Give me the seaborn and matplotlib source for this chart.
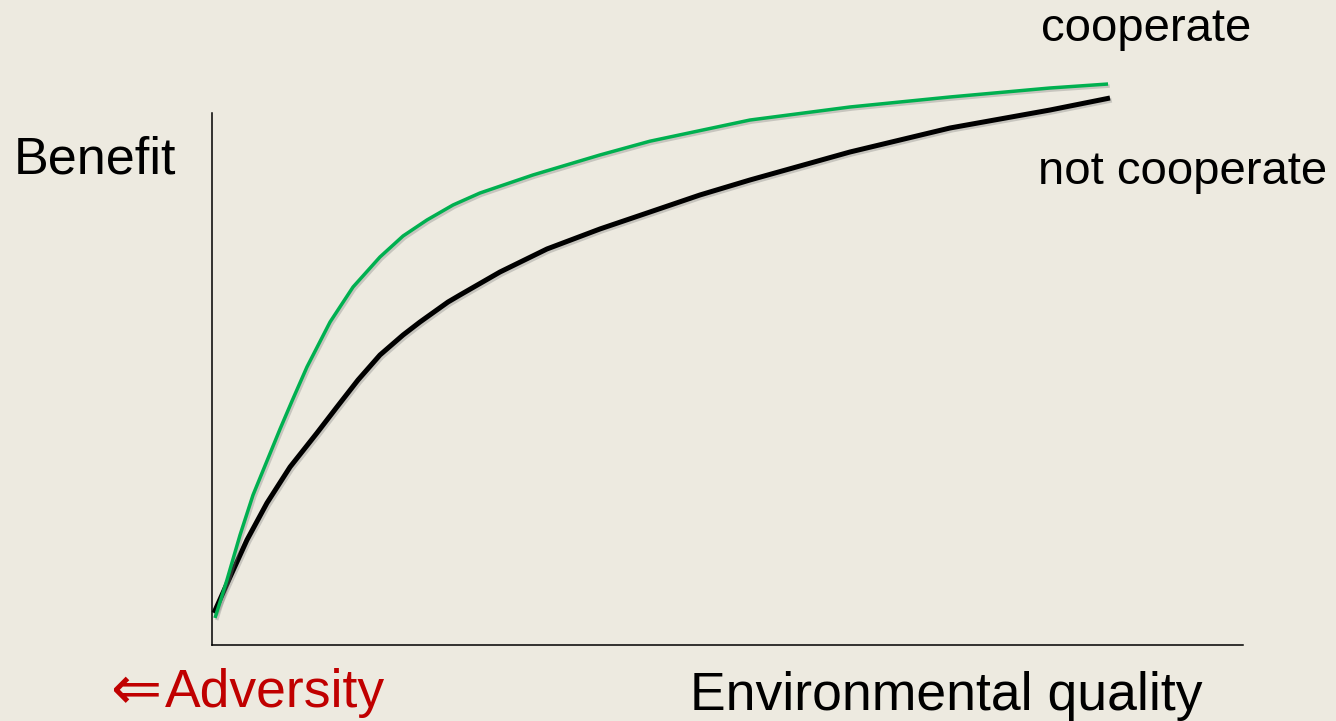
import numpy as np
import pandas as pd
import matplotlib
matplotlib.use("Agg")
import matplotlib.pyplot as plt
import matplotlib.patheffects as pe
import seaborn as sns

# -----------------------------
# Data (0-100 scale on both axes)
# -----------------------------
coop_x = [0.29, 1.45, 2.72, 3.98, 5.33, 6.60, 7.76, 9.21, 11.45, 13.68,
          16.29, 18.53, 20.85, 23.38, 25.99, 31.13, 37.63, 42.48, 52.18,
          61.88, 71.58, 81.28, 86.91]
coop_y = [5.08, 12.22, 20.68, 28.20, 34.59, 40.60, 45.86, 52.26, 60.71, 67.29,
          72.93, 76.88, 79.89, 82.71, 84.96, 88.35, 92.11, 94.70, 98.68,
          101.13, 103.01, 104.70, 105.45]

nocoop_x = [0.19, 1.75, 3.39, 5.33, 7.57, 10.18, 12.12, 14.16, 16.29, 18.53,
            20.17, 22.89, 24.05, 27.93, 32.49, 37.63, 42.48, 47.33, 52.18,
            61.88, 71.58, 81.28, 87.10]
nocoop_y = [6.02, 12.78, 19.74, 26.69, 33.46, 39.85, 44.74, 49.81, 54.51, 58.27,
            60.71, 64.47, 65.79, 70.11, 74.44, 78.20, 81.39, 84.59, 87.41,
            92.67, 97.18, 100.56, 102.82]

BG = "#EDEAE0"
GREEN = "#00B050"
RED = "#C00000"

sns.set_style("white")
plt.rcParams["font.family"] = ["Liberation Sans", "DejaVu Sans"]
plt.rcParams["figure.facecolor"] = BG
plt.rcParams["axes.facecolor"] = BG

fig = plt.figure(figsize=(13.36, 7.21), dpi=100)
W, H = 1336, 721
ax = fig.add_axes([212 / W, 76 / H, 1031 / W, 532 / H])

df = pd.concat([
    pd.DataFrame({"x": nocoop_x, "y": nocoop_y, "s": "not cooperate"}),
    pd.DataFrame({"x": coop_x, "y": coop_y, "s": "cooperate"}),
])

sns.lineplot(data=df, x="x", y="y", hue="s",
             palette={"not cooperate": "black", "cooperate": GREEN},
             legend=False, ax=ax, sort=False)

shadow = [pe.SimpleLineShadow(offset=(1.2, -1.5), shadow_color="gray", alpha=0.35),
          pe.Normal()]
for line in ax.lines:
    line.set_clip_on(False)
    line.set_solid_capstyle("butt")
    line.set_solid_joinstyle("round")
    line.set_path_effects(shadow)
    if line.get_color() == "black":
        line.set_linewidth(3.6)
    else:
        line.set_linewidth(2.5)

ax.set_xlim(0, 100)
ax.set_ylim(0, 100)
ax.set_xticks([])
ax.set_yticks([])
ax.set_xlabel("")
ax.set_ylabel("")
for side in ["top", "right"]:
    ax.spines[side].set_visible(False)
for side in ["left", "bottom"]:
    ax.spines[side].set_color("black")
    ax.spines[side].set_linewidth(1.1)

# labels (figure pixel positions -> fractions)
def put(px, py, s, size, color="black", family=None):
    kw = {"family": family} if family else {}
    fig.text(px / W, 1 - py / H, s, fontsize=size, color=color,
             ha="left", va="baseline", **kw)

put(14, 174, "Benefit", 37.5)
put(1041, 41, "cooperate", 34)
put(1038, 184, "not cooperate", 34)
put(690, 710, "Environmental quality", 38.5)
put(110, 709, "\u21d0", 44, RED, family="DejaVu Sans")
put(165, 707, "Adversity", 38.5, RED)

fig.savefig("out.png", dpi=100, facecolor=BG)
